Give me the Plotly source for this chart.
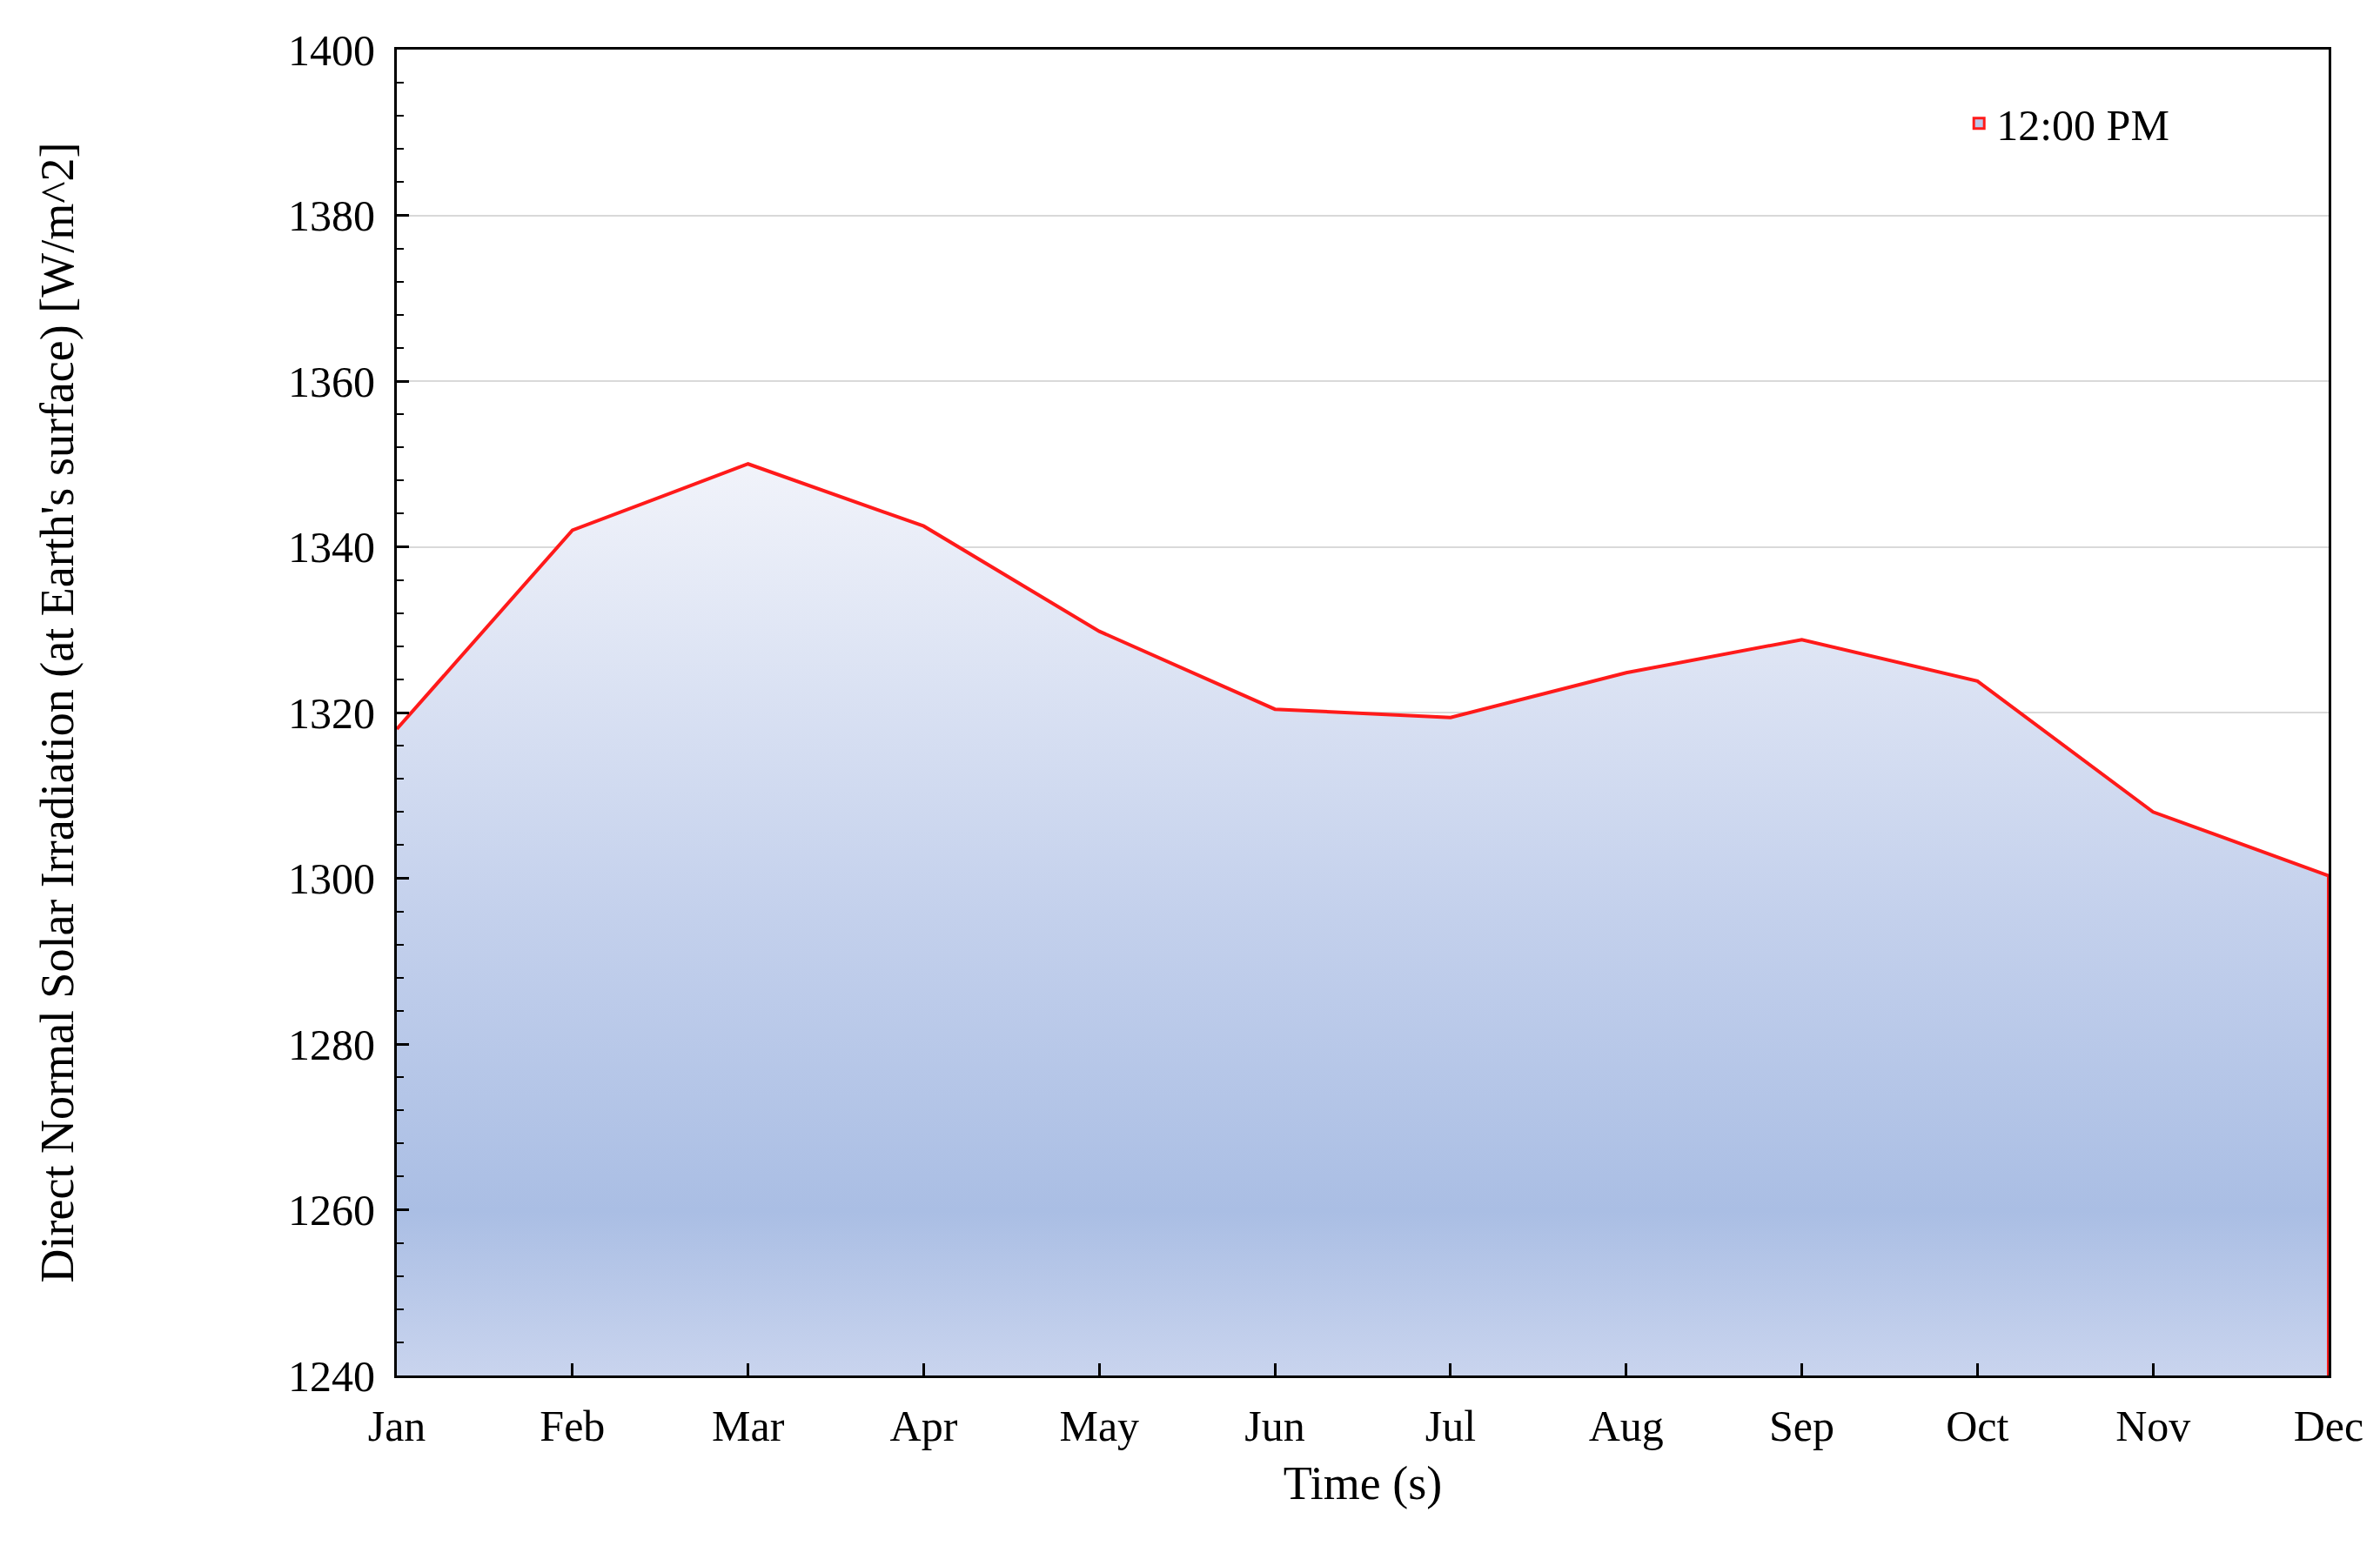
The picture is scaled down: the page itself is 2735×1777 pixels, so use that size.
import plotly.graph_objects as go

months = ["Jan", "Feb", "Mar", "Apr", "May", "Jun", "Jul", "Aug", "Sep", "Oct", "Nov", "Dec"]
irradiation = [1318, 1342, 1350, 1342.5, 1329.8, 1320.4, 1319.4, 1324.8, 1328.8, 1323.8, 1308, 1300.3]
y_min = 1240

font = "Liberation Serif, Times New Roman, serif"
red = "#ff1a1a"

fig = go.Figure()
fig.add_trace(go.Scatter(
    x=months, y=irradiation, name="12:00 PM", mode="lines",
    line=dict(color=red, width=4),
    fill="tozeroy", showlegend=False,
    fillgradient=dict(type="vertical", start=y_min, stop=max(irradiation),
                      colorscale=[[0, "#c9d4ee"], [0.18, "#aabee4"], [0.5, "#c3d0ec"], [1, "#f1f3fa"]]),
))
# closing edge at the right end
fig.add_trace(go.Scatter(
    x=[months[-1], months[-1]], y=[irradiation[-1], y_min], mode="lines",
    line=dict(color=red, width=4), showlegend=False, hoverinfo="skip",
))
# legend swatch (box)
fig.add_trace(go.Bar(
    x=[months[0]], y=[None], name="12:00 PM",
    marker=dict(color="#b9c8ea", line=dict(color=red, width=3)),
))

fig.update_layout(
    width=2735, height=1777, paper_bgcolor="white", plot_bgcolor="white",
    margin=dict(l=448, r=67, t=49, b=204),
    font=dict(family=font, size=50, color="black"),
    legend=dict(x=0.81, y=0.97, xanchor="left", yanchor="top", bgcolor="rgba(0,0,0,0)",
                font=dict(size=50), itemwidth=30),
)
fig.update_xaxes(
    range=[0, 11], showline=True, linecolor="black", linewidth=3, mirror=True,
    ticks="inside", ticklen=14, tickwidth=3, tickcolor="black", ticklabelstandoff=12,
    minor=dict(ticks="inside", ticklen=8, tickwidth=2, tickcolor="black", dtick=0.5),
    showgrid=False, title=dict(text="Time (s)", font=dict(size=54), standoff=20),
)
fig.update_yaxes(
    range=[y_min, 1400], dtick=20, showline=True, linecolor="black", linewidth=3, mirror=True,
    ticks="inside", ticklen=14, tickwidth=3, tickcolor="black", ticklabelstandoff=12,
    minor=dict(ticks="inside", ticklen=8, tickwidth=2, tickcolor="black", dtick=4),
    showgrid=True, gridcolor="#d9d9d9", gridwidth=2,
    title=dict(text="Direct Normal Solar Irradiation (at Earth's surface) [W/m^2]", font=dict(size=54), standoff=230),
)

fig.write_html("out.html")
